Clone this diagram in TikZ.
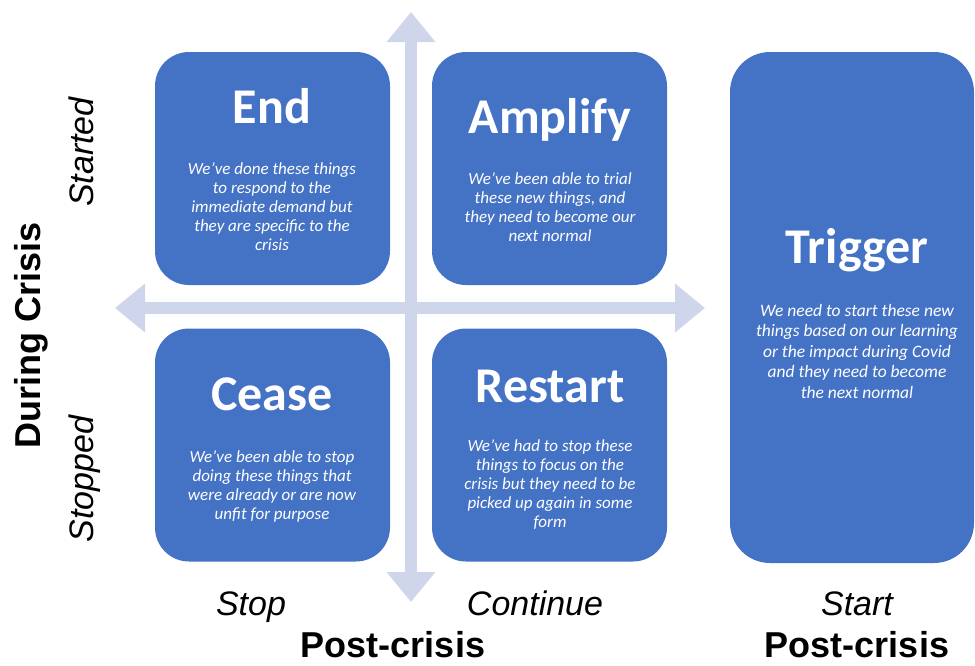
\documentclass[tikz,border=0pt]{standalone}
\usepackage{fontspec}
\setmainfont{Carlito}
\newfontfamily\arialfont{Liberation Sans}
\usetikzlibrary{arrows.meta}
\definecolor{boxblue}{RGB}{68,114,196}
\definecolor{axisgrey}{RGB}{207,213,234}

\begin{document}
\begin{tikzpicture}[x=1pt,y=-1pt]
    \tikzset{quad/.style={fill=boxblue, rounded corners=34pt, inner sep=0pt,
                 minimum width=235pt, minimum height=233pt},
             title/.style={text=white, anchor=base, font=\bfseries\fontsize{50}{60}\selectfont},
             blurb/.style={text=white, align=center, font=\itshape\fontsize{17}{19}\selectfont},
             axis/.style={draw=axisgrey, line width=12pt,
                 {Triangle[width=47pt,length=30pt]}-{Triangle[width=47pt,length=30pt]}},
             tag/.style={anchor=base, font=\arialfont\itshape\fontsize{34}{40}\selectfont},
             head/.style={anchor=base, inner sep=0pt, font=\arialfont\bfseries\fontsize{36}{42}\selectfont}}
    \useasboundingbox (0,0) rectangle (975,665);

    % the two axes
    \coordinate (up) at (411,12);
    \coordinate (down) at (411,602);
    \coordinate (left) at (115,308);
    \coordinate (right) at (705,308);
    \draw[axis] (down) -- (up);
    \draw[axis] (left) -- (right);

    % quadrants
    \node[quad] (end) at (272.5,168.5) {};
    \node[quad] (amp) at (549.5,168.5) {};
    \node[quad] (cease) at (272.5,445) {};
    \node[quad] (restart) at (549.5,445) {};
    \node[quad, rounded corners=40pt, minimum width=244pt, minimum height=511pt] (trig) at (852,307.5) {};

    \node[title] (endT) at (272,123) {End};
    \node[blurb] (endB) at (272,207) {We’ve done these things\\to respond to the\\immediate demand but\\they are specific to the\\crisis};
    \node[title] (ampT) at (550,133) {Amplify};
    \node[blurb] (ampB) at (550,207) {We’ve been able to trial\\these new things, and\\they need to become our\\next normal};
    \node[title] (ceaseT) at (272,410) {Cease};
    \node[blurb] (ceaseB) at (272,486) {We’ve been able to stop\\doing these things that\\were already or are now\\unfit for purpose};
    \node[title] (restartT) at (550,402) {Restart};
    \node[blurb] (restartB) at (550,485) {We’ve had to stop these\\things to focus on the\\crisis but they need to be\\picked up again in some\\form};
    \node[title] (trigT) at (857,263) {Trigger};
    \node[blurb, font=\itshape\fontsize{17.5}{20.5}\selectfont] (trigB) at (857,351) {We need to start these new\\things based on our learning\\or the impact during Covid\\and they need to become\\the next normal};

    % axis labels
    \node[tag, rotate=90] (started) at (93,152) {Started};
    \node[tag, rotate=90] (stopped) at (93,479) {Stopped};
    \node[head, rotate=90] (during) at (40,335) {During Crisis};
    \node[tag] (stop) at (251,615) {Stop};
    \node[tag] (cont) at (535,615) {Continue};
    \node[tag] (start) at (857,615) {Start};
    \node[head] (post) at (393,657) {Post-crisis};
    \node[head] (post2) at (857,657) {Post-crisis};
\end{tikzpicture}
\end{document}
